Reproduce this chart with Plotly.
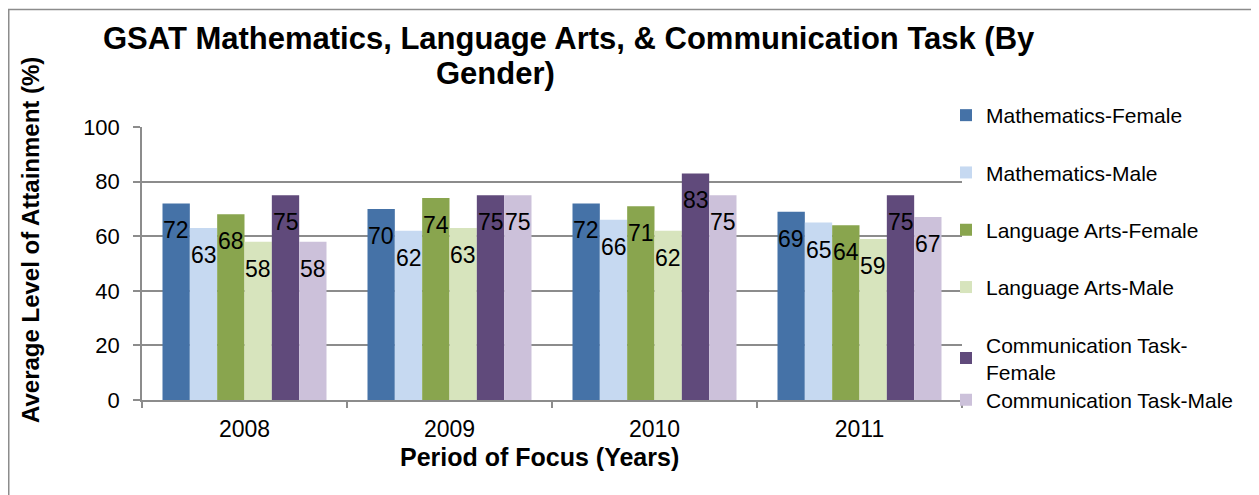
import plotly.graph_objects as go

years = ["2008", "2009", "2010", "2011"]
series_names = [
    "Mathematics-Female",
    "Mathematics-Male",
    "Language Arts-Female",
    "Language Arts-Male",
    "Communication Task-<br>Female",
    "Communication Task-Male",
]
math_female = [72, 70, 72, 69]
math_male = [63, 62, 66, 65]
lang_female = [68, 74, 71, 64]
lang_male = [58, 63, 62, 59]
comm_female = [75, 75, 83, 75]
comm_male = [58, 75, 75, 67]
series_values = [math_female, math_male, lang_female, lang_male, comm_female, comm_male]
colors = ["#4572A7", "#C6D9F1", "#89A54E", "#D7E4BD", "#604A7B", "#CCC1DA"]

FONT = "Liberation Sans, Arial, sans-serif"
GRAY = "#8c8c8c"
OFF = 8  # page body margin
W, H = 1259 - OFF, 495 - OFF
# plot area in screen pixels: x 142..962, y 127..400
L, T = 142 - OFF, 127 - OFF
R, B = W - (962 - OFF), H - (400 - OFF)
PW, PH = W - L - R, H - T - B

def px(x):
    return (x - OFF - L) / PW

def py(y):
    return (H - B - (y - OFF)) / PH

xpos = list(range(len(years)))
n = len(series_values)
bargap = 0.2
bw = (1 - bargap) / n

fig = go.Figure()
for j, (name, vals, col) in enumerate(zip(series_names, series_values, colors)):
    fig.add_trace(go.Bar(
        x=xpos, y=vals, name=name, marker=dict(color=col, line=dict(width=0)),
        legendgroup=f"g{j}",
        legend="legend2" if j == n - 1 else "legend",
        hoverinfo="skip",
    ))

annotations = []
for j, vals in enumerate(series_values):
    for i, v in enumerate(vals):
        annotations.append(dict(
            x=i - (1 - bargap) / 2 + (j + 0.5) * bw, y=v, xref="x", yref="y",
            text=str(v), showarrow=False, yshift=-27,
            font=dict(family=FONT, size=23, color="black"),
            xanchor="center", yanchor="middle",
        ))

annotations += [
    dict(text="<b>GSAT Mathematics, Language Arts, & Communication Task (By</b>",
         x=px(568.5), y=py(38), xref="paper", yref="paper", showarrow=False,
         xanchor="center", yanchor="middle", font=dict(family=FONT, size=31, color="black")),
    dict(text="<b>Gender)</b>",
         x=px(495), y=py(73), xref="paper", yref="paper", showarrow=False,
         xanchor="center", yanchor="middle", font=dict(family=FONT, size=31, color="black")),
    dict(text="<b>Period of Focus (Years)</b>",
         x=px(539), y=py(457), xref="paper", yref="paper", showarrow=False,
         xanchor="center", yanchor="middle", font=dict(family=FONT, size=25, color="black")),
    dict(text="<b>Average Level of Attainment (%)</b>", textangle=-90,
         x=px(30), y=py(240), xref="paper", yref="paper", showarrow=False,
         xanchor="center", yanchor="middle", font=dict(family=FONT, size=24, color="black")),
]

fig.update_layout(
    width=W, height=H,
    margin=dict(l=L, r=R, t=T, b=B, autoexpand=False),
    paper_bgcolor="white", plot_bgcolor="white",
    barmode="group", bargap=bargap, bargroupgap=0,
    font=dict(family=FONT, color="black"),
    showlegend=True,
    legend=dict(x=px(946), y=py(95), xanchor="left", yanchor="top",
                font=dict(family=FONT, size=21, color="black"), maxheight=1,
                tracegroupgap=27, bgcolor="rgba(0,0,0,0)", traceorder="grouped"),
    legend2=dict(x=px(946), y=py(400), xanchor="left", yanchor="middle",
                 font=dict(family=FONT, size=21, color="black"), maxheight=1,
                 bgcolor="rgba(0,0,0,0)"),
    annotations=annotations,
    shapes=[dict(type="rect", xref="paper", yref="paper",
                 x0=px(8.75), x1=px(1256.5), y0=py(520), y1=py(9.5),
                 line=dict(color=GRAY, width=1.5), fillcolor="rgba(0,0,0,0)", layer="above")],
)

fig.update_xaxes(
    range=[-0.5, len(years) - 0.5], tickmode="array", tickvals=xpos, ticktext=years,
    ticks="", showgrid=False, zeroline=False, ticklabelstandoff=8,
    showline=True, linecolor=GRAY, linewidth=1.5,
    tickfont=dict(family=FONT, size=23, color="black"),
    minor=dict(ticks="outside", ticklen=6, tickcolor=GRAY, tickwidth=1.5,
               tickmode="array", tickvals=[k - 0.5 for k in range(len(years) + 1)], showgrid=False),
    fixedrange=True,
)
fig.update_yaxes(
    range=[0, 100], tickmode="linear", tick0=0, dtick=20,
    ticks="outside", ticklen=7, tickcolor=GRAY, tickwidth=1.5,
    showline=True, linecolor=GRAY, linewidth=1.5, ticklabelstandoff=9,
    showgrid=True, gridcolor=GRAY, gridwidth=1.5, zeroline=False,
    tickfont=dict(family=FONT, size=22, color="black"),
    fixedrange=True,
)

fig.write_html("out.html")
